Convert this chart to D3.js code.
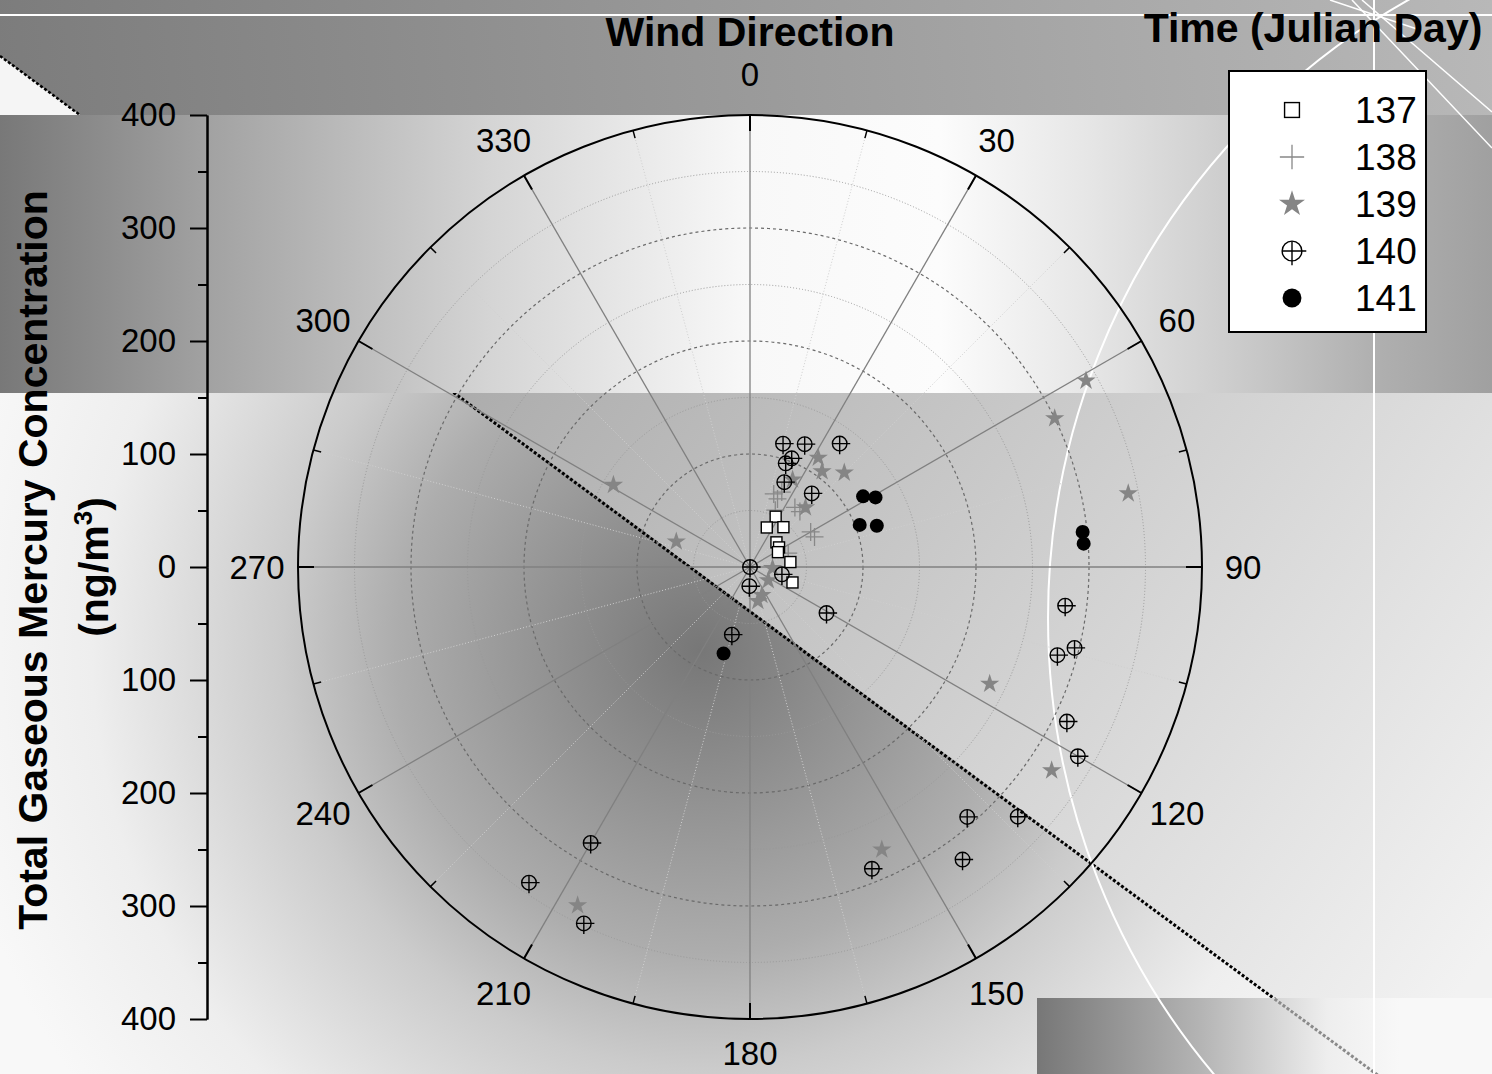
<!DOCTYPE html>
<html>
<head>
<meta charset="utf-8">
<script src="https://cdn.jsdelivr.net/npm/d3@7"></script>
<style>
  body { margin: 0; background: #fff; }
  text { font-family: "Liberation Sans", Arial, sans-serif; fill: #000; }
</style>
</head>
<body>
<svg id="chart" width="1492" height="1074"></svg>
<script>
// ---- data (wind direction in degrees, TGM in ng/m3) ----
const days = ["137", "138", "139", "140", "141"];

const dir137 = [27, 23, 40, 47, 56, 62, 83, 110];
const tgm137 = [50, 38, 46, 32, 31, 28, 36, 40];

const dir138 = [18, 22, 23, 37, 42, 60, 65, 70, 24];
const tgm138 = [68, 65, 72, 66, 66, 62, 63, 36, 55];

const dir139 = [61, 64, 79, 116, 124, 155, 207, 301, 289, 32, 37, 45, 43, 26, 93, 126, 157, 167];
const tgm139 = [340, 300, 341, 236, 322, 276, 336, 141, 69, 114, 106, 118, 72, 86, 20, 20, 27, 31];

const dir140 = [15, 24, 36, 21, 19, 22, 40, 0, 103, 182, 121, 195, 97, 104, 106, 116, 120, 210, 215, 205, 158, 139, 133, 144];
const tgm140 = [113, 119, 135, 103, 97, 81, 85, 0, 29, 17, 79, 62, 281, 296, 283, 312, 335, 282, 341, 348, 288, 293, 324, 320];

const dir141 = [58, 61, 69, 72, 84, 86, 197];
const tgm141 = [118, 127, 104, 118, 296, 296, 80];

const angleTicks = d3.range(0, 360, 30);
const angleMinor = d3.range(15, 360, 30);
const radMajor = [100, 200, 300];
const radMinor = [50, 150, 250, 350];
const axisMajor = [0, 100, 200, 300, 400];

// ---- layout ----
const W = 1492, H = 1074;
const cx = 750, cy = 567, R = 452;

const svg = d3.select("#chart");
const defs = svg.append("defs");

const r = d3.scaleLinear().domain([0, 400]).range([0, R]);
const ang = d3.scaleLinear().domain([0, 360]).range([0, 2 * Math.PI]);
const px = (d, c) => cx + r(c) * Math.sin(ang(d));
const py = (d, c) => cy - r(c) * Math.cos(ang(d));

const linGrad = (id, x1, y1, x2, y2, stops) => {
  const g = defs.append("linearGradient")
    .attr("id", id)
    .attr("gradientUnits", "userSpaceOnUse")
    .attr("x1", x1).attr("y1", y1)
    .attr("x2", x2).attr("y2", y2);
  stops.forEach(s => g.append("stop").attr("offset", s[0]).attr("stop-color", s[1]));
};

linGrad("gLight", 450, 393, 1400, 1074, [[0, "#acacac"], [1, "#f2f2f2"]]);
linGrad("gBand", 0, 0, W, 0, [
  [0, "#787878"], [0.14, "#a2a2a2"], [0.33, "#d5d5d5"], [0.5, "#f8f8f8"],
  [0.63, "#fcfcfc"], [0.73, "#e6e6e6"], [0.83, "#cbcbcb"], [0.92, "#b0b0b0"], [1, "#a0a0a0"]
]);
linGrad("gTop", 0, 115, W, 0, [[0, "#7c7c7c"], [1, "#b8b8b8"]]);
linGrad("gCorner", 1037, 0, 1400, 0, [[0, "#777777"], [0.45, "#b4b4b4"], [0.8, "#eeeeee"], [1, "#f8f8f8"]]);

const rad = defs.append("radialGradient")
  .attr("id", "gDark")
  .attr("gradientUnits", "userSpaceOnUse")
  .attr("cx", 700).attr("cy", 650).attr("r", 760);
[[0, "#777777"], [0.4, "#adadad"], [0.55, "#cbcbcb"], [0.8, "#eeeeee"], [1, "#f8f8f8"]]
  .forEach(s => rad.append("stop").attr("offset", s[0]).attr("stop-color", s[1]));

// ---- background collage ----
const bg = svg.append("g");
const diag = x => 115 + 0.7385 * (x - 80);
const xEnd = 80 + (H - 115) / 0.7385;
const xRect = 80 + (998 - 115) / 0.7385;

bg.append("rect").attr("width", W).attr("height", H).attr("fill", "url(#gLight)");
bg.append("path")
  .attr("d", `M0,${diag(0)}L${xEnd},${H}L0,${H}Z`)
  .attr("fill", "url(#gDark)");
bg.append("line")
  .attr("x1", 0).attr("y1", diag(0)).attr("x2", xEnd).attr("y2", H)
  .attr("stroke", "#000").attr("stroke-width", 3)
  .attr("stroke-dasharray", "3,2")
  .attr("transform", "translate(-1,1)");
bg.append("rect").attr("y", 115).attr("width", W).attr("height", 278).attr("fill", "url(#gBand)");
bg.append("rect").attr("width", W).attr("height", 115).attr("fill", "url(#gTop)");
bg.append("path")
  .attr("d", `M0,${diag(0)}L80,115L0,115Z`)
  .attr("fill", "#f5f5f5");
bg.append("line")
  .attr("x1", 0).attr("y1", diag(0)).attr("x2", 80).attr("y2", 115)
  .attr("stroke", "#000").attr("stroke-width", 2.5)
  .attr("stroke-dasharray", "3,2");
bg.append("rect").attr("x", 1037).attr("y", 998).attr("width", W - 1037).attr("height", H - 998)
  .attr("fill", "url(#gCorner)");
bg.append("line")
  .attr("x1", xRect).attr("y1", 998).attr("x2", xEnd).attr("y2", H)
  .attr("stroke", "#8a8a8a").attr("stroke-width", 3)
  .attr("stroke-dasharray", "3,2")
  .attr("transform", "translate(-1,1)");

const white = bg.append("g").attr("stroke", "#fff").attr("fill", "none").attr("stroke-width", 2);
white.append("line").attr("x1", 0).attr("y1", 15).attr("x2", W).attr("y2", 15);
white.append("line").attr("x1", 1374).attr("y1", 0).attr("x2", 1374).attr("y2", H);
white.append("circle").attr("cx", 1758).attr("cy", 618).attr("r", 710);
white.append("line").attr("x1", 1352).attr("y1", 0).attr("x2", W).attr("y2", 148).attr("stroke-width", 1.5);
white.append("line").attr("x1", 1362).attr("y1", 0).attr("x2", W).attr("y2", 112).attr("stroke-width", 1.5);
white.append("line").attr("x1", 1330).attr("y1", 0).attr("x2", 1420).attr("y2", 30).attr("stroke-width", 1.5);

// ---- polar grid ----
const grid = svg.append("g");

grid.selectAll(".minorRing").data(radMinor).join("circle")
  .attr("cx", cx).attr("cy", cy).attr("r", d => r(d))
  .attr("fill", "none").attr("stroke", "#9a9a9a").attr("stroke-width", 1)
  .attr("stroke-dasharray", "1,2");

grid.selectAll(".majorRing").data(radMajor).join("circle")
  .attr("cx", cx).attr("cy", cy).attr("r", d => r(d))
  .attr("fill", "none").attr("stroke", "#6a6a6a").attr("stroke-width", 1.2)
  .attr("stroke-dasharray", "3,3");

grid.selectAll(".minorSpoke").data(angleMinor).join("line")
  .attr("x1", cx).attr("y1", cy)
  .attr("x2", d => px(d, 400)).attr("y2", d => py(d, 400))
  .attr("stroke", "#d0d0d0").attr("stroke-width", 1)
  .attr("stroke-dasharray", "1,2");

grid.selectAll(".majorSpoke").data(angleTicks).join("line")
  .attr("x1", cx).attr("y1", cy)
  .attr("x2", d => px(d, 400)).attr("y2", d => py(d, 400))
  .attr("stroke", "#808080").attr("stroke-width", 1.3);

grid.append("circle")
  .attr("cx", cx).attr("cy", cy).attr("r", R)
  .attr("fill", "none").attr("stroke", "#000").attr("stroke-width", 2);

grid.selectAll(".majorTick").data(angleTicks).join("line")
  .attr("x1", d => cx + (R - 16) * Math.sin(ang(d))).attr("y1", d => cy - (R - 16) * Math.cos(ang(d)))
  .attr("x2", d => px(d, 400)).attr("y2", d => py(d, 400))
  .attr("stroke", "#000").attr("stroke-width", 2);

grid.selectAll(".minorTick").data(angleMinor).join("line")
  .attr("x1", d => cx + (R - 8) * Math.sin(ang(d))).attr("y1", d => cy - (R - 8) * Math.cos(ang(d)))
  .attr("x2", d => px(d, 400)).attr("y2", d => py(d, 400))
  .attr("stroke", "#000").attr("stroke-width", 1.5);

// bottom label sits a little closer so it stays inside the page
const labelR = d => (d === 180 ? 486 : 493);
grid.selectAll(".angleLabel").data(angleTicks).join("text")
  .attr("x", d => cx + labelR(d) * Math.sin(ang(d)))
  .attr("y", d => cy - labelR(d) * Math.cos(ang(d)))
  .attr("text-anchor", "middle")
  .attr("dominant-baseline", "central")
  .attr("font-size", 33)
  .text(d => d);

// ---- radial axis on the left ----
const yUp = d3.scaleLinear().domain([0, 400]).range([cy, cy - R]);
const yDown = d3.scaleLinear().domain([0, 400]).range([cy, cy + R]);
const axisG = svg.append("g").attr("transform", "translate(207,0)");

axisG.append("g").call(d3.axisLeft(yUp).tickValues(axisMajor).tickSize(17).tickPadding(14).tickSizeOuter(0));
axisG.append("g").call(d3.axisLeft(yDown).tickValues(axisMajor.slice(1)).tickSize(17).tickPadding(14).tickSizeOuter(0));
axisG.append("g").call(d3.axisLeft(yUp).tickValues(radMinor).tickSize(9).tickFormat("").tickSizeOuter(0));
axisG.append("g").call(d3.axisLeft(yDown).tickValues(radMinor).tickSize(9).tickFormat("").tickSizeOuter(0));

axisG.selectAll("g").attr("font-size", 33).attr("font-family", null);
axisG.selectAll("line, path").attr("stroke", "#000").attr("stroke-width", 2);

// ---- titles ----
svg.append("text")
  .attr("x", cx).attr("y", 46)
  .attr("text-anchor", "middle")
  .attr("font-size", 41).attr("font-weight", "bold")
  .text("Wind Direction");

svg.append("text")
  .attr("x", 1313).attr("y", 42)
  .attr("text-anchor", "middle")
  .attr("font-size", 41).attr("font-weight", "bold")
  .text("Time (Julian Day)");

svg.append("text")
  .attr("transform", "translate(47,560) rotate(-90)")
  .attr("text-anchor", "middle")
  .attr("font-size", 41).attr("font-weight", "bold")
  .text("Total Gaseous Mercury Concentration");

const unit = svg.append("text")
  .attr("transform", "translate(108,567) rotate(-90)")
  .attr("text-anchor", "middle")
  .attr("font-size", 41).attr("font-weight", "bold");
unit.append("tspan").text("(ng/m");
unit.append("tspan").attr("font-size", 26).attr("dy", -16).text("3");
unit.append("tspan").attr("dy", 16).text(")");

// ---- symbols ----
const starPath = k => d3.symbol(d3.symbolStar, 115 * k * k)();

const drawSymbol = (g, type, x, y, k) => {
  if (type === "square") {
    g.append("rect")
      .attr("x", x - 5.5 * k).attr("y", y - 5.5 * k)
      .attr("width", 11 * k).attr("height", 11 * k)
      .attr("fill", "#fff").attr("stroke", "#000").attr("stroke-width", 1.4);
  } else if (type === "plus") {
    g.append("path")
      .attr("d", `M${x - 9 * k},${y}H${x + 9 * k}M${x},${y - 9 * k}V${y + 9 * k}`)
      .attr("stroke", "#888").attr("stroke-width", 1.3).attr("fill", "none");
  } else if (type === "star") {
    g.append("path")
      .attr("d", starPath(k))
      .attr("transform", `translate(${x},${y})`)
      .attr("fill", "#858585");
  } else if (type === "crossCircle") {
    const cr = 7.3 * k;
    g.append("circle")
      .attr("cx", x).attr("cy", y).attr("r", cr)
      .attr("fill", "none").attr("stroke", "#000").attr("stroke-width", 1.4);
    g.append("path")
      .attr("d", `M${x},${y - cr}V${y + cr * 1.45}M${x - cr},${y}H${x + cr * 1.45}`)
      .attr("stroke", "#000").attr("stroke-width", 1.4).attr("fill", "none");
  } else {
    g.append("circle")
      .attr("cx", x).attr("cy", y).attr("r", 7 * k)
      .attr("fill", "#000");
  }
};

const series = [
  { day: "138", type: "plus", dir: dir138, tgm: tgm138 },
  { day: "139", type: "star", dir: dir139, tgm: tgm139 },
  { day: "137", type: "square", dir: dir137, tgm: tgm137 },
  { day: "140", type: "crossCircle", dir: dir140, tgm: tgm140 },
  { day: "141", type: "dot", dir: dir141, tgm: tgm141 }
];

const marks = svg.append("g");
series.forEach(s => {
  const g = marks.append("g").attr("class", "day" + s.day);
  s.dir.forEach((d, i) => drawSymbol(g, s.type, px(d, s.tgm[i]), py(d, s.tgm[i]), 1));
});

// ---- legend ----
const legend = svg.append("g");
legend.append("rect")
  .attr("x", 1229).attr("y", 71).attr("width", 197).attr("height", 261)
  .attr("fill", "#fff").attr("stroke", "#000").attr("stroke-width", 2);

const typeOf = day => series.find(s => s.day === day).type;
days.forEach((day, i) => {
  const y = 110 + i * 47;
  drawSymbol(legend, typeOf(day), 1292, y, 1.35);
  legend.append("text")
    .attr("x", 1355).attr("y", y)
    .attr("dominant-baseline", "central")
    .attr("font-size", 37)
    .text(day);
});
</script>
</body>
</html>
